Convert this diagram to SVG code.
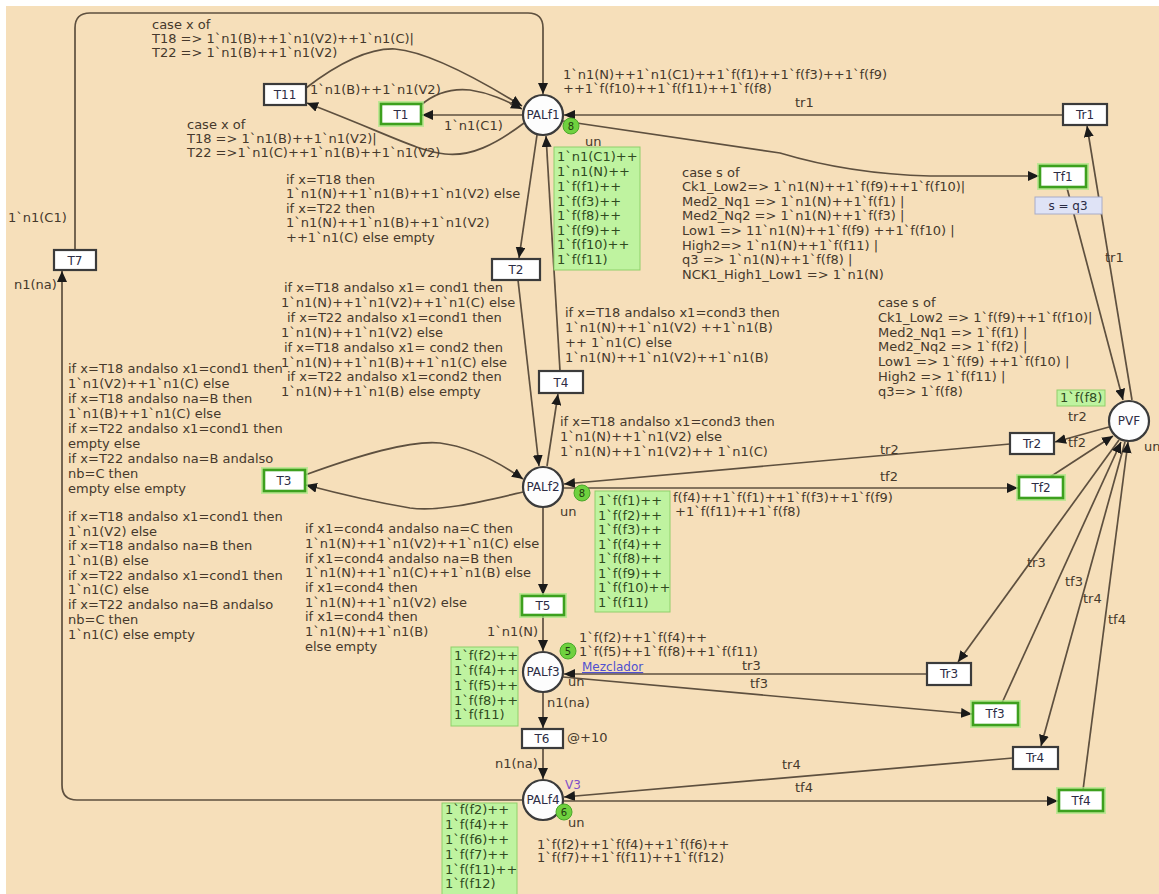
<svg xmlns="http://www.w3.org/2000/svg" width="1159" height="894" viewBox="0 0 1159 894">
<style>
.t{font-family:"DejaVu Sans",sans-serif;font-size:13px;fill:#45392c}
.m{font-family:"DejaVu Sans",sans-serif;font-size:13px;fill:#2f4a1f}
.nm{font-family:"DejaVu Sans",sans-serif;font-size:12px;fill:#2c2c44;text-anchor:middle}
.tr{fill:#fff;stroke:#3b3b3b;stroke-width:2.2}
.tg{fill:#fff;stroke:#3da01e;stroke-width:2.6}
.gl{fill:none;stroke:#a8e884;stroke-width:6;stroke-opacity:0.7}
.pl{fill:#fdfdfd;stroke:#3b3b3b;stroke-width:2.2}
.mk{fill:#bff3a0;stroke:#8fd06a;stroke-width:1}
.tok{fill:#6fd13f;stroke:#4aa82a;stroke-width:1}
.tk{font-family:"DejaVu Sans",sans-serif;font-size:10px;fill:#1f3a10;text-anchor:middle}
.arc path{fill:none;stroke:#5e503f;stroke-width:1.7}
</style>
<defs>
<marker id="ah" markerUnits="userSpaceOnUse" markerWidth="12" markerHeight="10" refX="11" refY="5" orient="auto">
<path d="M0,0 L11,5 L0,10 z" fill="#1a1a1a"/>
</marker>
</defs>
<rect x="0" y="0" width="1159" height="894" fill="#ffffff"/>
<rect x="6" y="6" width="1153" height="888" fill="#f6dfba"/>

<g id="connectors" class="arc">
<path d="M75,250 V28 Q75,13 90,13 H528 Q543,13 543,28 V94" marker-end="url(#ah)"/>
<path d="M523,800 H77 Q62,800 62,785 V271" marker-end="url(#ah)"/>
<path d="M306,88 C340,62 370,48 395,49 C430,52 480,80 522,106" marker-end="url(#ah)"/>
<path d="M421,105 C435,93 450,88 470,90 C490,93 505,100 522,109" marker-end="url(#ah)"/>
<path d="M523,115 H422" marker-end="url(#ah)"/>
<path d="M524,123 C495,145 470,157 445,154 C415,150 395,137 307,103" marker-end="url(#ah)"/>
<path d="M537,135 L519,258" marker-end="url(#ah)"/>
<path d="M560,371 L546,136" marker-end="url(#ah)"/>
<path d="M518,280 L539,466" marker-end="url(#ah)"/>
<path d="M547,466 L558,394" marker-end="url(#ah)"/>
<path d="M305,475 C360,455 410,440 440,443 C470,447 500,463 523,479" marker-end="url(#ah)"/>
<path d="M523,492 C480,502 440,512 410,508 C380,503 340,494 306,485" marker-end="url(#ah)"/>
<path d="M543,507 V595" marker-end="url(#ah)"/>
<path d="M543,615 V651" marker-end="url(#ah)"/>
<path d="M543,692 V728" marker-end="url(#ah)"/>
<path d="M543,748 V779" marker-end="url(#ah)"/>
<path d="M1063,115 H564" marker-end="url(#ah)"/>
<path d="M563,121 L780,153 Q850,174 930,176 L1039,176" marker-end="url(#ah)"/>
<path d="M1067,188 L1123,400" marker-end="url(#ah)"/>
<path d="M1132,400 L1087,126" marker-end="url(#ah)"/>
<path d="M1109,427 L1055,442" marker-end="url(#ah)"/>
<path d="M1010,444 L564,484" marker-end="url(#ah)"/>
<path d="M564,488 H1018" marker-end="url(#ah)"/>
<path d="M1050,477 L1113,436" marker-end="url(#ah)"/>
<path d="M1119,440 L958,662" marker-end="url(#ah)"/>
<path d="M927,674 H564" marker-end="url(#ah)"/>
<path d="M563,677 L972,714" marker-end="url(#ah)"/>
<path d="M1002,703 L1121,442" marker-end="url(#ah)"/>
<path d="M1125,442 L1041,746" marker-end="url(#ah)"/>
<path d="M1013,758 L564,797" marker-end="url(#ah)"/>
<path d="M564,801 H1058" marker-end="url(#ah)"/>
<path d="M1083,790 L1128,442" marker-end="url(#ah)"/>
</g>

<g id="arc-labels">
<text class="t" x="152" y="29">case x of</text>
<text class="t" x="152" y="43">T18 =&gt; 1`n1(B)++1`n1(V2)++1`n1(C)|</text>
<text class="t" x="152" y="57">T22 =&gt;  1`n1(B)++1`n1(V2)</text>
<text class="t" x="310" y="94">1`n1(B)++1`n1(V2)</text>
<text class="t" x="187" y="129">case x of</text>
<text class="t" x="187" y="143">T18 =&gt; 1`n1(B)++1`n1(V2)|</text>
<text class="t" x="187" y="157">T22 =&gt;1`n1(C)++1`n1(B)++1`n1(V2)</text>
<text class="t" x="444" y="130">1`n1(C1)</text>
<text class="t" x="286" y="184">if x=T18 then</text>
<text class="t" x="286" y="198">1`n1(N)++1`n1(B)++1`n1(V2) else</text>
<text class="t" x="286" y="213">if x=T22  then</text>
<text class="t" x="286" y="227">1`n1(N)++1`n1(B)++1`n1(V2)</text>
<text class="t" x="286" y="242">++1`n1(C) else empty</text>
<text class="t" x="284" y="292">if x=T18 andalso x1= cond1 then</text>
<text class="t" x="281" y="307">1`n1(N)++1`n1(V2)++1`n1(C) else</text>
<text class="t" x="287" y="322">if x=T22  andalso x1=cond1 then</text>
<text class="t" x="281" y="337">1`n1(N)++1`n1(V2) else</text>
<text class="t" x="284" y="352">if x=T18 andalso x1= cond2 then</text>
<text class="t" x="281" y="367">1`n1(N)++1`n1(B)++1`n1(C) else</text>
<text class="t" x="287" y="381">if x=T22  andalso x1=cond2 then</text>
<text class="t" x="281" y="396">1`n1(N)++1`n1(B) else empty</text>
<text class="t" x="565" y="317">if x=T18 andalso x1=cond3 then</text>
<text class="t" x="565" y="332">1`n1(N)++1`n1(V2) ++1`n1(B)</text>
<text class="t" x="565" y="347">++ 1`n1(C) else</text>
<text class="t" x="565" y="362">1`n1(N)++1`n1(V2)++1`n1(B)</text>
<text class="t" x="560" y="426">if x=T18 andalso x1=cond3 then</text>
<text class="t" x="560" y="441">1`n1(N)++1`n1(V2) else</text>
<text class="t" x="560" y="456">1`n1(N)++1`n1(V2)++ 1`n1(C)</text>
<text class="t" x="68" y="373">if x=T18 andalso x1=cond1 then</text>
<text class="t" x="68" y="388">1`n1(V2)++1`n1(C) else</text>
<text class="t" x="68" y="403">if x=T18 andalso na=B then</text>
<text class="t" x="68" y="418">1`n1(B)++1`n1(C) else</text>
<text class="t" x="68" y="433">if x=T22 andalso x1=cond1 then</text>
<text class="t" x="68" y="448">empty else</text>
<text class="t" x="68" y="463">if x=T22 andalso na=B andalso</text>
<text class="t" x="68" y="478">nb=C then</text>
<text class="t" x="68" y="493">empty else empty</text>
<text class="t" x="68" y="521">if x=T18 andalso x1=cond1 then</text>
<text class="t" x="68" y="536">1`n1(V2) else</text>
<text class="t" x="68" y="550">if x=T18 andalso na=B then</text>
<text class="t" x="68" y="565">1`n1(B) else</text>
<text class="t" x="68" y="580">if x=T22 andalso x1=cond1 then</text>
<text class="t" x="68" y="594">1`n1(C) else</text>
<text class="t" x="68" y="609">if x=T22 andalso na=B andalso</text>
<text class="t" x="68" y="624">nb=C then</text>
<text class="t" x="68" y="639">1`n1(C) else empty</text>
<text class="t" x="305" y="533">if x1=cond4 andalso na=C then</text>
<text class="t" x="305" y="548">1`n1(N)++1`n1(V2)++1`n1(C) else</text>
<text class="t" x="305" y="563">if x1=cond4 andalso na=B then</text>
<text class="t" x="305" y="577">1`n1(N)++1`n1(C)++1`n1(B) else</text>
<text class="t" x="305" y="592">if x1=cond4 then</text>
<text class="t" x="305" y="607">1`n1(N)++1`n1(V2) else</text>
<text class="t" x="305" y="621">if x1=cond4 then</text>
<text class="t" x="305" y="636">1`n1(N)++1`n1(B)</text>
<text class="t" x="305" y="651">else empty</text>
<text class="t" x="682" y="177">case s of</text>
<text class="t" x="682" y="191">Ck1_Low2=&gt; 1`n1(N)++1`f(f9)++1`f(f10)|</text>
<text class="t" x="682" y="206">Med2_Nq1 =&gt; 1`n1(N)++1`f(f1) |</text>
<text class="t" x="682" y="220">Med2_Nq2 =&gt; 1`n1(N)++1`f(f3) |</text>
<text class="t" x="682" y="235">Low1 =&gt; 11`n1(N)++1`f(f9) ++1`f(f10) |</text>
<text class="t" x="682" y="250">High2=&gt; 1`n1(N)++1`f(f11) |</text>
<text class="t" x="682" y="264">q3 =&gt; 1`n1(N)++1`f(f8)  |</text>
<text class="t" x="682" y="279">NCK1_High1_Low1 =&gt; 1`n1(N)</text>
<text class="t" x="878" y="307">case s of</text>
<text class="t" x="878" y="322">Ck1_Low2 =&gt; 1`f(f9)++1`f(f10)|</text>
<text class="t" x="878" y="337">Med2_Nq1 =&gt; 1`f(f1) |</text>
<text class="t" x="878" y="351">Med2_Nq2 =&gt; 1`f(f2) |</text>
<text class="t" x="878" y="366">Low1 =&gt; 1`f(f9) ++1`f(f10) |</text>
<text class="t" x="878" y="381">High2 =&gt; 1`f(f11) |</text>
<text class="t" x="878" y="396">q3=&gt; 1`f(f8)</text>
<text class="t" x="563" y="79">1`n1(N)++1`n1(C1)++1`f(f1)++1`f(f3)++1`f(f9)</text>
<text class="t" x="563" y="93">++1`f(f10)++1`f(f11)++1`f(f8)</text>
<text class="t" x="673" y="502">f(f4)++1`f(f1)++1`f(f3)++1`f(f9)</text>
<text class="t" x="675" y="516">+1`f(f11)++1`f(f8)</text>
<text class="t" x="8" y="222">1`n1(C1)</text>
<text class="t" x="14" y="289">n1(na)</text>
<text class="t" x="487" y="636">1`n1(N)</text>
<text class="t" x="547" y="707">n1(na)</text>
<text class="t" x="495" y="768">n1(na)</text>
<text class="t" x="567" y="742">@+10</text>
<text class="t" x="795" y="107">tr1</text>
<text class="t" x="1105" y="262">tr1</text>
<text class="t" x="880" y="454">tr2</text>
<text class="t" x="880" y="481">tf2</text>
<text class="t" x="1068" y="421">tr2</text>
<text class="t" x="1068" y="447">tf2</text>
<text class="t" x="1027" y="567">tr3</text>
<text class="t" x="1065" y="586">tf3</text>
<text class="t" x="1083" y="603">tr4</text>
<text class="t" x="1108" y="624">tf4</text>
<text class="t" x="742" y="670">tr3</text>
<text class="t" x="750" y="688">tf3</text>
<text class="t" x="782" y="769">tr4</text>
<text class="t" x="795" y="792">tf4</text>
</g>

<g id="PALf1">
<circle class="pl" cx="543" cy="115" r="20"/>
<text class="nm" x="543" y="119">PALf1</text>
<circle class="tok" cx="571" cy="126" r="8"/>
<text class="tk" x="571" y="130">8</text>
<text class="t" x="585" y="146">un</text>
<rect class="mk" x="554" y="147" width="86" height="123"/>
<text class="m" x="557" y="161">1`n1(C1)++</text>
<text class="m" x="557" y="176">1`n1(N)++</text>
<text class="m" x="557" y="191">1`f(f1)++</text>
<text class="m" x="557" y="206">1`f(f3)++</text>
<text class="m" x="557" y="220">1`f(f8)++</text>
<text class="m" x="557" y="235">1`f(f9)++</text>
<text class="m" x="557" y="249">1`f(f10)++</text>
<text class="m" x="557" y="264">1`f(f11)</text>
</g>

<g id="PALf2">
<circle class="pl" cx="543" cy="487" r="20"/>
<text class="nm" x="543" y="491">PALf2</text>
<circle class="tok" cx="582" cy="493" r="8"/>
<text class="tk" x="582" y="497">8</text>
<text class="t" x="560" y="516">un</text>
<rect class="mk" x="595" y="491" width="75" height="121"/>
<text class="m" x="598" y="505">1`f(f1)++</text>
<text class="m" x="598" y="520">1`f(f2)++</text>
<text class="m" x="598" y="534">1`f(f3)++</text>
<text class="m" x="598" y="549">1`f(f4)++</text>
<text class="m" x="598" y="563">1`f(f8)++</text>
<text class="m" x="598" y="578">1`f(f9)++</text>
<text class="m" x="598" y="592">1`f(f10)++</text>
<text class="m" x="598" y="607">1`f(f11)</text>
</g>

<g id="PALf3">
<circle class="pl" cx="543" cy="672" r="20"/>
<text class="nm" x="543" y="676">PALf3</text>
<text class="t" x="568" y="686">un</text>
<circle class="tok" cx="568" cy="651" r="8"/>
<text class="tk" x="568" y="655">5</text>
<text class="t" x="579" y="642">1`f(f2)++1`f(f4)++</text>
<text class="t" x="579" y="656">1`f(f5)++1`f(f8)++1`f(f11)</text>
<text x="582" y="671" font-family="DejaVu Sans, sans-serif" font-size="12" fill="#5050d0" text-decoration="underline">Mezclador</text>
<rect class="mk" x="451" y="647" width="67" height="79"/>
<text class="m" x="454" y="660">1`f(f2)++</text>
<text class="m" x="454" y="675">1`f(f4)++</text>
<text class="m" x="454" y="690">1`f(f5)++</text>
<text class="m" x="454" y="705">1`f(f8)++</text>
<text class="m" x="454" y="719">1`f(f11)</text>
</g>

<g id="PALf4">
<circle class="pl" cx="543" cy="800" r="20"/>
<text class="nm" x="543" y="804">PALf4</text>
<text class="t" x="568" y="827">un</text>
<circle class="tok" cx="564" cy="812" r="8"/>
<text class="tk" x="564" y="816">6</text>
<text x="565" y="789" font-family="DejaVu Sans, sans-serif" font-size="12" fill="#8050c8">V3</text>
<text class="t" x="537" y="849">1`f(f2)++1`f(f4)++1`f(f6)++</text>
<text class="t" x="537" y="862">1`f(f7)++1`f(f11)++1`f(f12)</text>
<rect class="mk" x="442" y="803" width="75" height="95"/>
<text class="m" x="445" y="814">1`f(f2)++</text>
<text class="m" x="445" y="829">1`f(f4)++</text>
<text class="m" x="445" y="844">1`f(f6)++</text>
<text class="m" x="445" y="859">1`f(f7)++</text>
<text class="m" x="445" y="874">1`f(f11)++</text>
<text class="m" x="445" y="888">1`f(f12)</text>
</g>

<g id="PVF">
<circle class="pl" cx="1129" cy="421" r="20"/>
<text class="nm" x="1129" y="425">PVF</text>
<text class="t" x="1144" y="451">un</text>
<rect class="mk" x="1057" y="390" width="48" height="16"/>
<text class="m" x="1060" y="402">1`f(f8)</text>
</g>

<g id="T11"><rect class="tr" x="264" y="84" width="42" height="21"/><text class="nm" x="285" y="99">T11</text></g>
<g id="T1"><rect class="gl" x="381" y="104" width="40" height="20"/><rect class="tg" x="381" y="104" width="40" height="20"/><text class="nm" x="401" y="119">T1</text></g>
<g id="T7"><rect class="tr" x="54" y="250" width="42" height="20"/><text class="nm" x="75" y="265">T7</text></g>
<g id="T2"><rect class="tr" x="492" y="259" width="48" height="21"/><text class="nm" x="516" y="274">T2</text></g>
<g id="T4"><rect class="tr" x="539" y="371" width="44" height="22"/><text class="nm" x="561" y="387">T4</text></g>
<g id="T3"><rect class="gl" x="264" y="470" width="41" height="21"/><rect class="tg" x="264" y="470" width="41" height="21"/><text class="nm" x="284" y="485">T3</text></g>
<g id="T5"><rect class="gl" x="522" y="596" width="42" height="19"/><rect class="tg" x="522" y="596" width="42" height="19"/><text class="nm" x="543" y="610">T5</text></g>
<g id="T6"><rect class="tr" x="522" y="729" width="41" height="19"/><text class="nm" x="542" y="743">T6</text></g>
<g id="Tr1"><rect class="tr" x="1063" y="104" width="44" height="21"/><text class="nm" x="1085" y="119">Tr1</text></g>
<g id="Tf1"><rect class="gl" x="1040" y="166" width="46" height="21"/><rect class="tg" x="1040" y="166" width="46" height="21"/><text class="nm" x="1063" y="181">Tf1</text>
<rect x="1035" y="197" width="67" height="17" fill="#dfe3f6" stroke="#a8acc8" stroke-width="1"/>
<text class="nm" x="1068" y="210">s = q3</text></g>
<g id="Tr2"><rect class="tr" x="1010" y="433" width="44" height="21"/><text class="nm" x="1032" y="448">Tr2</text></g>
<g id="Tf2"><rect class="gl" x="1019" y="477" width="44" height="21"/><rect class="tg" x="1019" y="477" width="44" height="21"/><text class="nm" x="1041" y="492">Tf2</text></g>
<g id="Tr3"><rect class="tr" x="927" y="663" width="44" height="22"/><text class="nm" x="949" y="678">Tr3</text></g>
<g id="Tf3"><rect class="gl" x="973" y="703" width="45" height="22"/><rect class="tg" x="973" y="703" width="45" height="22"/><text class="nm" x="995" y="718">Tf3</text></g>
<g id="Tr4"><rect class="tr" x="1013" y="747" width="45" height="22"/><text class="nm" x="1035" y="762">Tr4</text></g>
<g id="Tf4"><rect class="gl" x="1059" y="790" width="44" height="21"/><rect class="tg" x="1059" y="790" width="44" height="21"/><text class="nm" x="1081" y="805">Tf4</text></g>
</svg>
